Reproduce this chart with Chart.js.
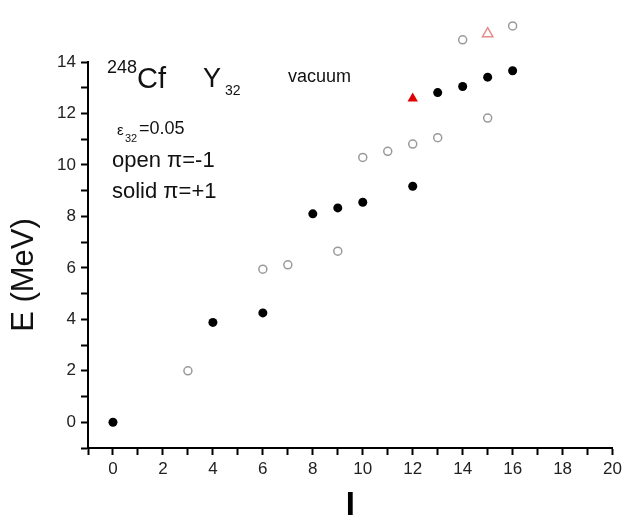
<!DOCTYPE html>
<html>
<head>
<meta charset="utf-8">
<script src="https://cdn.jsdelivr.net/npm/chart.js@4"></script>
<style>
  body { margin: 0; background: #fff; }
  #box { width: 626px; height: 526px; }
</style>
</head>
<body>
<div id="box"><canvas id="myChart"></canvas></div>
<script>
// data
const solidI = [0, 4, 6, 8, 9, 10, 12, 13, 14, 15, 16];
const solidE = [0, 3.88, 4.25, 8.10, 8.33, 8.55, 9.17, 12.81, 13.05, 13.41, 13.66];
const openI = [3, 6, 7, 9, 10, 11, 12, 13, 14, 15, 16];
const openE = [2.0, 5.95, 6.12, 6.65, 10.29, 10.53, 10.81, 11.06, 14.86, 11.82, 15.4];
const redSolidI = [12];
const redSolidE = [12.58];
const redOpenI = [15];
const redOpenE = [15.1];
const xTicks = [0, 2, 4, 6, 8, 10, 12, 14, 16, 18, 20];
const yTicks = [0, 2, 4, 6, 8, 10, 12, 14];

const FONT = '"Liberation Sans", Arial, sans-serif';

function pts(xs, ys) {
    return xs.map(function(x, i) { return { x: x, y: ys[i] }; });
}

// points above E=14 sit over the end of the axis, so let them draw there
let savedTop = 0;
const overTop = {
    id: 'overTop',
    beforeDatasetsDraw(chart) {
        savedTop = chart.chartArea.top;
        chart.chartArea.top = 0;
    },
    afterDatasetsDraw(chart) {
        chart.chartArea.top = savedTop;
    }
};

// y title and the little notes in the corner
const notes = {
    id: 'notes',
    afterDraw(chart) {
        const c = chart.ctx;
        c.save();
        c.fillStyle = '#111';
        c.textBaseline = 'alphabetic';
        c.textAlign = 'left';
        c.font = '18px ' + FONT; c.fillText('248', 107, 73);
        c.font = '29px ' + FONT; c.fillText('Cf', 137, 88);
        c.font = '27px ' + FONT; c.fillText('Y', 203, 87);
        c.font = '14px ' + FONT; c.fillText('32', 225, 95);
        c.font = '18px ' + FONT; c.fillText('vacuum', 288, 82);
        c.font = '15px ' + FONT; c.fillText('\u03b5', 117, 135);
        c.font = '11px ' + FONT; c.fillText('32', 125, 142);
        c.font = '18px ' + FONT; c.fillText('=0.05', 139, 134);
        c.font = '22px ' + FONT; c.fillText('open \u03c0=-1', 112, 167);
        c.fillText('solid \u03c0=+1', 112, 198);
        // y title
        c.font = '31px ' + FONT;
        c.textAlign = 'center';
        c.textBaseline = 'middle';
        c.translate(24, 275);
        c.rotate(-Math.PI / 2);
        c.fillText('E (MeV)', 0, 0);
        c.restore();
    }
};

const ctx = document.getElementById('myChart').getContext('2d');
const myChart = new Chart(ctx, {
    type: 'scatter',
    data: {
        datasets: [
            {
                label: 'solid',
                data: pts(solidI, solidE),
                pointStyle: 'circle',
                pointRadius: 4.5,
                backgroundColor: '#000',
                borderColor: '#000',
                borderWidth: 0,
                clip: false
            },
            {
                label: 'open',
                data: pts(openI, openE),
                pointStyle: 'circle',
                pointRadius: 4,
                backgroundColor: 'rgba(255,255,255,0)',
                borderColor: '#9a9a9a',
                borderWidth: 1.5,
                clip: false
            },
            {
                label: 'red solid',
                data: pts(redSolidI, redSolidE),
                pointStyle: 'triangle',
                pointRadius: 6,
                backgroundColor: '#e00000',
                borderColor: '#e00000',
                borderWidth: 0,
                clip: false
            },
            {
                label: 'red open',
                data: pts(redOpenI, redOpenE),
                pointStyle: 'triangle',
                pointRadius: 6,
                backgroundColor: 'rgba(255,255,255,0)',
                borderColor: '#e88a8a',
                borderWidth: 1.5,
                clip: false
            }
        ]
    },
    options: {
        responsive: true,
        maintainAspectRatio: false,
        animation: false,
        layout: { padding: { top: 62, right: 12, left: 0, bottom: 0 } },
        plugins: {
            legend: { display: false },
            tooltip: { enabled: false }
        },
        scales: {
            x: {
                type: 'linear',
                min: -1,
                max: 20,
                afterFit: function(s) { s.height = 78; },
                border: { color: '#000', width: 2 },
                grid: { drawOnChartArea: false, drawTicks: true, tickLength: 7, tickColor: '#000', tickWidth: 2 },
                ticks: {
                    stepSize: 1,
                    autoSkip: false,
                    maxRotation: 0,
                    padding: 4,
                    color: '#222',
                    font: { family: FONT, size: 17 },
                    callback: function(v) { return xTicks.includes(v) ? String(v) : ''; }
                },
                title: {
                    display: true,
                    text: 'I',
                    color: '#000',
                    font: { family: FONT, size: 33, weight: 'bold' },
                    padding: { top: 6, bottom: 0 }
                }
            },
            y: {
                type: 'linear',
                min: -1,
                max: 14,
                afterFit: function(s) { s.width = 88; },
                border: { color: '#000', width: 2 },
                grid: { drawOnChartArea: false, drawTicks: true, tickLength: 7, tickColor: '#000', tickWidth: 2 },
                ticks: {
                    stepSize: 1,
                    autoSkip: false,
                    padding: 5,
                    color: '#222',
                    font: { family: FONT, size: 17 },
                    callback: function(v) { return yTicks.includes(v) ? String(v) : ''; }
                }
            }
        }
    },
    plugins: [overTop, notes]
});
</script>
</body>
</html>
